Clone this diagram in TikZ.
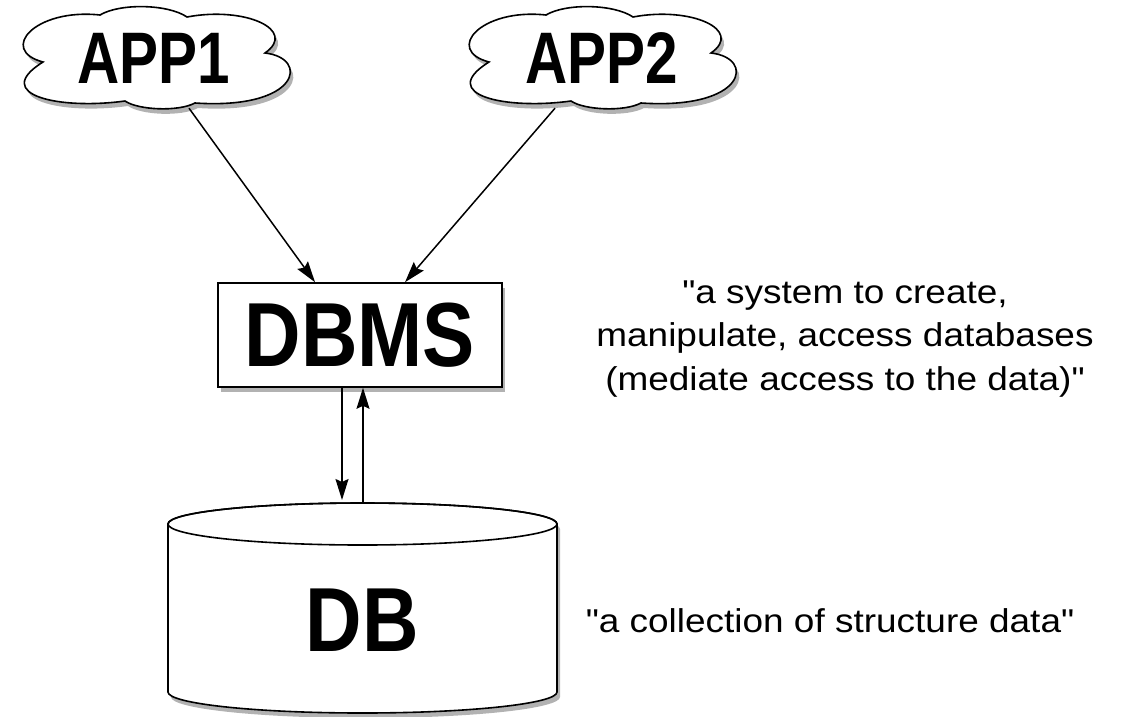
\documentclass[tikz,border=0pt]{standalone}
\usepackage{fontspec}
\setmainfont{Liberation Sans}
\newfontfamily\appfont[FakeStretch=0.8]{Liberation Sans}
\newfontfamily\bigfont[FakeStretch=0.86]{Liberation Sans}
\newfontfamily\descfont[FakeStretch=1.12]{Liberation Sans}
\usetikzlibrary{arrows.meta,shadows}
\begin{document}
\begin{tikzpicture}[x=1pt,y=-1pt,
  shad/.style={drop shadow={shadow xshift=3pt,shadow yshift=-5pt,opacity=0.3,fill=black}},
  outl/.style={draw=black,line width=1.6pt,fill=white},
  arr/.style={-{Stealth[length=21pt,width=13pt,inset=3pt]},line width=1.5pt},
  apptxt/.style={inner sep=0pt,minimum width=260pt,minimum height=100pt,
    font=\appfont\bfseries\fontsize{73}{80}\selectfont},
  bigtxt/.style={inner sep=0pt,font=\bigfont\bfseries\fontsize{91}{96}\selectfont},
  desctxt/.style={inner sep=0pt,font=\descfont\fontsize{33}{43.5}\selectfont},
  cloudshape/.pic={
    \path[outl,shad] (43,62) .. controls (-2,50) and (35,8) .. (100,15)
      .. controls (120,3) and (168,4) .. (187,17)
      .. controls (245,6) and (298,30) .. (265,53)
      .. controls (310,58) and (300,110) .. (195,103)
      .. controls (178,112) and (138,110) .. (125,101)
      .. controls (60,110) and (-10,95) .. (43,62) -- cycle;
  }]
\useasboundingbox (0,0) rectangle (1125,716);
\fill[white] (0,0) rectangle (1125,716);

% clouds
\pic at (0,0) {cloudshape};
\pic at (446,0) {cloudshape};
\node[apptxt] (app1) at (154,58) {APP1};
\node[apptxt] (app2) at (602,58) {APP2};

% DBMS box
\node[outl,shad,bigtxt,minimum width=284pt,minimum height=104pt] (dbms) at (360,335) {DBMS};

% DB cylinder
\path[outl,shad] (168,524) -- (168,692)
  arc[start angle=180,end angle=0,x radius=194.5,y radius=21]
  -- (557,524)
  arc[start angle=0,end angle=-180,x radius=194.5,y radius=21] -- cycle;
\draw[line width=1.6pt] (362.5,524) ellipse[x radius=194.5,y radius=21];
\coordinate (dbtop) at (362.5,503);
\node[bigtxt] (db) at (362.5,620) {DB};

% descriptions
\node[desctxt,align=center] (desc1) at (845,339)
  {"a system to create,\\manipulate, access databases\\(mediate access to the data)"};
\node[desctxt,anchor=base] (desc2) at (830,632) {"a collection of structure data"};

% connectors
\draw[arr] ([xshift=35pt]app1.south) -- ([xshift=-45pt]dbms.north);
\draw[arr] ([xshift=-47pt]app2.south) -- ([xshift=45pt]dbms.north);
\draw[arr] ([xshift=-18pt]dbms.south) -- ([xshift=-20.5pt,yshift=3pt]dbtop);
\draw[arr] ([xshift=0.5pt]dbtop) -- ([xshift=3pt]dbms.south);
\end{tikzpicture}
\end{document}
